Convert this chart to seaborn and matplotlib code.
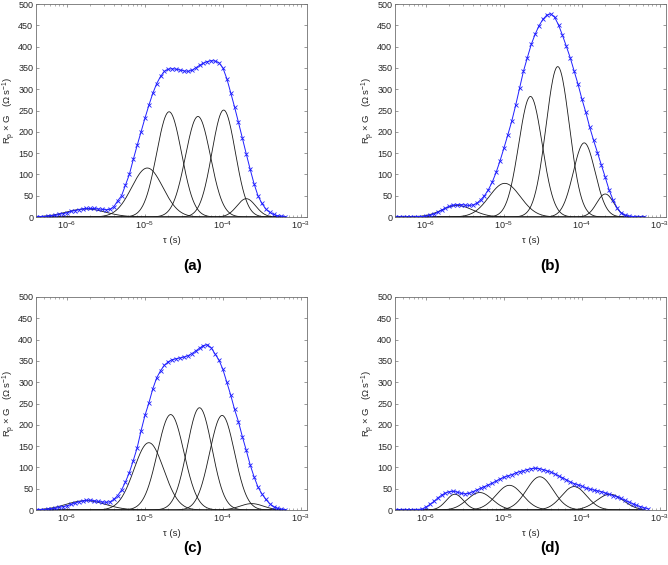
import matplotlib
matplotlib.use('Agg')
import matplotlib.pyplot as plt
import numpy as np
import pandas as pd
import seaborn as sns
from matplotlib.ticker import LogLocator, NullFormatter

# DRT sampled every 0.05 decade starting at log10(tau) = -6.4
LOG_TAU_START = -6.4
LOG_TAU_STEP = 0.05

drt_a = [1, 1, 1, 2, 3, 4, 6, 8, 10, 13, 15, 17, 19, 20, 20, 20, 19, 18, 17, 18,
         24, 38, 50, 75, 100, 135, 168, 200, 232, 262, 290, 313, 330, 342, 347, 348,
         347, 345, 343, 342, 344, 350, 356, 361, 365, 367, 366, 362, 350, 325, 292,
         258, 222, 185, 148, 112, 78, 50, 32, 19, 11, 6, 3, 2, 1]
drt_b = [0, 0, 0, 0, 0, 0, 1, 1, 2, 4, 7, 11, 16, 21, 25, 28, 29, 29, 28, 27,
         28, 32, 40, 50, 64, 82, 105, 132, 162, 193, 225, 262, 302, 342, 374, 405,
         429, 449, 464, 474, 477, 469, 451, 427, 401, 374, 343, 312, 277, 246, 211,
         180, 151, 122, 93, 63, 40, 22, 10, 5, 2, 1, 0, 0, 0]
drt_c = [1, 1, 1, 2, 3, 4, 6, 8, 10, 13, 16, 19, 21, 23, 23, 22, 20, 19, 18, 19,
         25, 34, 47, 66, 88, 116, 146, 186, 222, 251, 284, 310, 327, 340, 348, 353,
         355, 357, 359, 362, 367, 373, 380, 386, 388, 381, 366, 352, 330, 300, 270,
         236, 207, 172, 140, 106, 78, 54, 38, 25, 15, 8, 4, 2, 1]
drt_d = [0, 0, 0, 0, 0, 0, 1, 2, 7, 13, 20, 28, 35, 40, 43, 44, 42, 39, 38, 39,
         43, 47, 51, 55, 59, 63, 68, 73, 77, 80, 83, 87, 90, 92, 95, 97, 98, 97,
         95, 92, 89, 85, 80, 76, 71, 66, 62, 59, 56, 52, 49, 47, 45, 43, 40, 37,
         34, 31, 27, 23, 19, 15, 11, 8, 5, 3]

# fitted gaussian peaks: centre (log10 tau), height, width (decades)
centres_a = [-5.76, -4.97, -4.69, -4.32, -3.99, -3.70]
heights_a = [19, 115, 247, 236, 251, 43]
widths_a = [0.25, 0.20, 0.16, 0.16, 0.15, 0.12]

centres_b = [-5.60, -4.99, -4.66, -4.31, -3.97, -3.70]
heights_b = [27, 79, 283, 353, 174, 54]
widths_b = [0.20, 0.20, 0.15, 0.15, 0.14, 0.11]

centres_c = [-5.76, -4.95, -4.67, -4.30, -4.01, -3.63]
heights_c = [22, 158, 224, 240, 222, 15]
widths_c = [0.25, 0.19, 0.17, 0.16, 0.16, 0.15]

centres_d = [-5.63, -5.31, -4.93, -4.54, -4.10, -3.64]
heights_d = [37, 41, 58, 78, 55, 37]
widths_d = [0.11, 0.16, 0.17, 0.17, 0.16, 0.17]

panel_labels = ['(a)', '(b)', '(c)', '(d)']
y_ticks = list(range(0, 501, 50))

BLUE = '#1f1fff'
SPINE = '#707070'

sns.set_theme(style='ticks')
plt.rcParams['font.family'] = ['Liberation Sans', 'DejaVu Sans']
plt.rcParams['mathtext.default'] = 'regular'
plt.rcParams['mathtext.fontset'] = 'custom'
plt.rcParams['mathtext.rm'] = 'Liberation Sans'


def draw_panel(ax, drt, centres, heights, widths):
    ax.set_xscale('log')
    tau = 10 ** (LOG_TAU_START + LOG_TAU_STEP * np.arange(len(drt)))
    fine = np.linspace(-6.4, -3.2, 500)
    rows = []
    for i, (c, h, w) in enumerate(zip(centres, heights, widths)):
        g = h * np.exp(-(fine - c) ** 2 / (2 * w ** 2))
        rows.append(pd.DataFrame({'tau': 10 ** fine, 'g': g, 'peak': i}))
    peaks = pd.concat(rows)
    sns.lineplot(data=peaks, x='tau', y='g', units='peak', estimator=None,
                 color='#1a1a1a', lw=0.6, ax=ax)
    df = pd.DataFrame({'tau': tau, 'g': drt})
    sns.lineplot(data=df, x='tau', y='g', color=BLUE, lw=0.7, marker='x',
                 markersize=3.2, markeredgewidth=0.6, markeredgecolor=BLUE, ax=ax)
    ax.set_xlim(4e-7, 1.2e-3)
    ax.set_ylim(0, 500)
    ax.set_yticks(y_ticks)
    ax.xaxis.set_major_locator(LogLocator(base=10, numticks=10))
    ax.xaxis.set_minor_locator(LogLocator(base=10, subs=np.arange(2, 10), numticks=10))
    ax.xaxis.set_minor_formatter(NullFormatter())
    ax.tick_params(which='both', direction='in', top=True, right=True,
                   color=SPINE, labelsize=6.5, labelcolor='#262626', pad=2)
    ax.tick_params(which='major', length=2.5, width=0.5)
    ax.tick_params(which='minor', length=1.5, width=0.4)
    for s in ax.spines.values():
        s.set_color(SPINE)
        s.set_linewidth(0.6)
    ax.set_xlabel('\u03c4 (s)', fontsize=6.8, color='#262626')
    ax.set_ylabel('R$_p$ \u00d7 G   (\u03a9 s$^{-1}$)', fontsize=6.8, color='#262626')
    ax.xaxis.set_label_coords(0.5, -0.088)
    ax.yaxis.set_label_coords(-0.068, 0.5)


fig = plt.figure(figsize=(6.68, 5.65), dpi=100)
lefts = [36 / 668, 395 / 668]
bottoms = [1 - 217 / 565, 1 - 510 / 565]
w = 271 / 668
h = 213 / 565
panels = [(drt_a, centres_a, heights_a, widths_a),
          (drt_b, centres_b, heights_b, widths_b),
          (drt_c, centres_c, heights_c, widths_c),
          (drt_d, centres_d, heights_d, widths_d)]
label_pos = [(193, 266), (550, 266), (193, 548), (550, 548)]
for i, (drt, c, hh, ww) in enumerate(panels):
    ax = fig.add_axes([lefts[i % 2], bottoms[i // 2], w, h])
    draw_panel(ax, drt, c, hh, ww)
    lx, ly = label_pos[i]
    fig.text(lx / 668, 1 - ly / 565, panel_labels[i], ha='center', va='center',
             fontsize=11, fontweight='bold', color='black')

fig.savefig('out.png', dpi=100)
